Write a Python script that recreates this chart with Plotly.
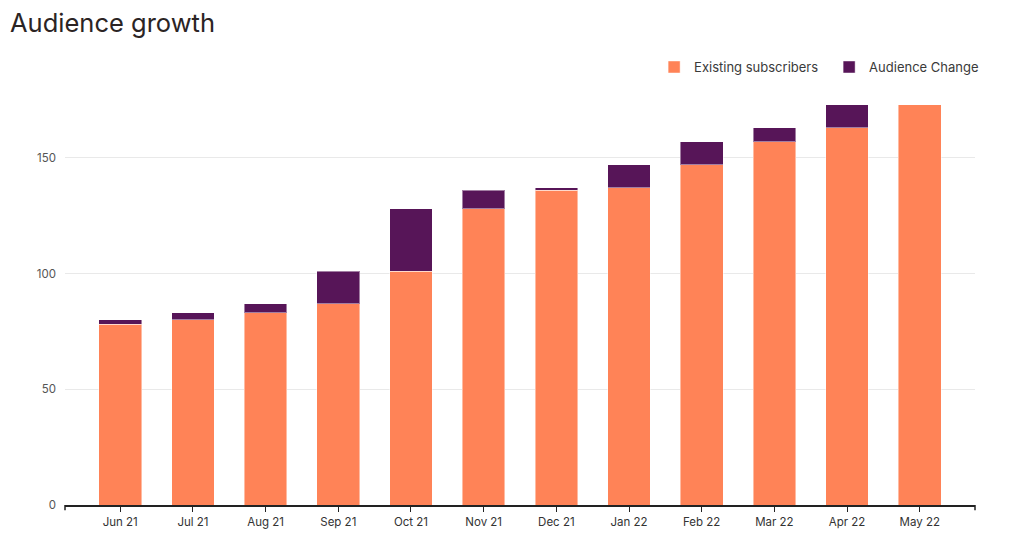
"""Audience growth: stacked monthly bars of existing subscribers plus audience change."""

import plotly.graph_objects as go

## data
months = ['Jun 21', 'Jul 21', 'Aug 21', 'Sep 21', 'Oct 21', 'Nov 21',
          'Dec 21', 'Jan 22', 'Feb 22', 'Mar 22', 'Apr 22', 'May 22']
existing_subscribers = [78, 80, 83, 87, 101, 128, 136, 137, 147, 157, 163, 173]
audience_change = [2, 3, 4, 14, 27, 8, 1, 10, 10, 6, 10, 0]
y_ticks = [0, 50, 100, 150]

## styles
orange, purple = '#ff8357', '#571558'
font_family = 'Inter, "Open Sans", sans-serif'

fig = go.Figure()
fig.add_trace(go.Bar(
    x=months, y=existing_subscribers, name='Existing subscribers',
    marker=dict(color=orange, line=dict(color='rgba(255,255,255,0.45)', width=1)),
))
fig.add_trace(go.Bar(
    x=months, y=audience_change, name='Audience Change',
    marker=dict(color=purple, line=dict(color='rgba(255,255,255,0.45)', width=1)),
))

## end ticks of the x axis line
for xp in [0, 1]:
    fig.add_shape(type='line', xref='paper', yref='paper', x0=xp, x1=xp, y0=0, y1=-0.013,
                  line=dict(color='#222', width=1.5))

## page body adds an 8px offset, so the figure is sized 8px smaller
fig.update_layout(
    width=1022, height=533,
    barmode='stack', bargap=0.414,
    plot_bgcolor='white', paper_bgcolor='white',
    margin=dict(l=57, r=55, t=85, b=36),
    font=dict(family=font_family, color='#333'),
    title=dict(text='Audience growth', x=0.002, xanchor='left', y=0.988, yanchor='top',
               font=dict(size=25.5, color='#2b2424', family=font_family)),
    legend=dict(orientation='h', x=1.032, xanchor='right', y=1.063, yanchor='middle',
                font=dict(size=13, color='#3a3a3a'), itemwidth=30, traceorder='normal',
                entrywidth=130),
    xaxis=dict(type='category', range=[-0.76, 11.76], showgrid=False,
               showline=True, linecolor='#222', linewidth=1.5,
               ticks='outside', ticklen=5, tickcolor='#222', tickwidth=1,
               tickfont=dict(size=11.5, color='#333'), fixedrange=True),
    yaxis=dict(range=[0, 178], tickvals=y_ticks, showgrid=True, gridcolor='#e9e9e9',
               gridwidth=1, zeroline=False, showline=False, ticks='',
               tickfont=dict(size=11.5, color='#555'), ticklabelstandoff=8, fixedrange=True),
)

fig.write_html('out.html')
